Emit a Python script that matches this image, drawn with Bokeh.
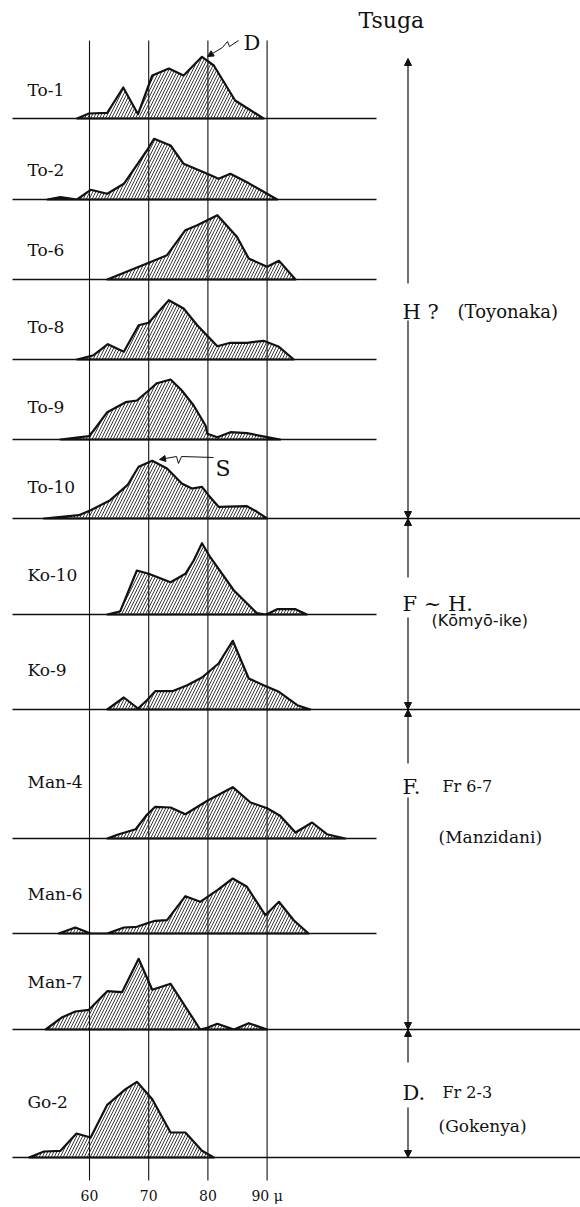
from bokeh.plotting import figure
from bokeh.models import Range1d, FixedTicker, Arrow, NormalHead
from bokeh.core.properties import value
from bokeh.embed import file_html
from bokeh.resources import INLINE

# ---------------- data (grain size in micron, relative frequency) ----------------
samples = ["To-1", "To-2", "To-6", "To-8", "To-9", "To-10",
           "Ko-10", "Ko-9", "Man-4", "Man-6", "Man-7", "Go-2"]

to1_size = [57.9, 59.9, 63.0, 65.7, 68.2, 70.6, 73.4, 75.9, 79.0, 81.0, 84.6, 87.2, 89.4]
to1_freq = [0, 5, 5.7, 31, 4.3, 43, 50, 43, 61.7, 53, 18, 8.3, 0]

to2_size = [52.9, 55.1, 57.9, 60.2, 63.0, 65.8, 69.7, 70.9, 73.7, 75.9, 79.9, 81.8, 83.8, 86.6, 90.0, 91.7]
to2_freq = [0, 2.3, 0, 9.7, 5.7, 15.7, 49, 60.7, 54, 35.7, 25.7, 20.7, 25.7, 17.3, 5.7, 0]

to6_size = [63.0, 69.7, 73.1, 76.2, 78.2, 81.6, 84.9, 86.9, 90.0, 92.0, 94.8]
to6_freq = [0, 16, 24.3, 49.3, 54.3, 64.3, 42.7, 21, 12.7, 18.7, 0]

to8_size = [57.9, 60.7, 63.1, 65.8, 68.3, 70.0, 73.4, 75.9, 78.2, 81.6, 83.8, 86.6, 89.4, 92.0, 94.5]
to8_freq = [0, 4.3, 15.3, 7.7, 34.3, 36.7, 59.3, 51, 34.3, 13.3, 16.7, 16.7, 18.7, 12.7, 0]

to9_size = [55.1, 59.9, 60.7, 63.0, 66.1, 68.0, 70.0, 71.4, 73.7, 75.6, 77.6, 79.6, 79.9,
            81.6, 83.8, 86.6, 90.0, 92.2]
to9_freq = [0, 3.3, 9, 27.3, 37.3, 39, 49, 56.3, 60, 49, 34, 14, 5.7, 2.3, 7.3, 6.3, 2.3, 0]

to10_size = [52.3, 58.2, 60.2, 63.5, 66.4, 68.3, 70.6, 73.1, 75.6, 77.3, 79.0, 80.1, 81.8, 86.6, 88.3, 90.0]
to10_freq = [0, 3.3, 8.3, 18.3, 33.3, 51.7, 57.7, 50, 35, 30, 31.7, 23.3, 11.7, 12.3, 6.7, 0]

ko10_size = [63.0, 65.2, 68.0, 70.0, 73.7, 76.2, 77.6, 79.0, 80.4, 84.4, 88.3, 89.7, 90.3, 91.7, 94.8, 96.7]
ko10_freq = [0, 3.3, 44, 40.7, 32.3, 40.7, 54, 71.3, 57.3, 24, 1.3, 0, 1.3, 5.3, 5.3, 0]

ko9_size = [63.0, 65.8, 68.2, 69.7, 71.1, 74.0, 76.5, 79.0, 81.8, 84.2, 86.9, 89.4, 92.0, 95.1, 97.3]
ko9_freq = [0, 12, 1, 9.3, 18.3, 18.3, 24.3, 32, 46, 68.7, 31, 24.3, 17.7, 4.3, 0]

man4_size = [63.0, 64.7, 67.8, 69.7, 71.1, 73.7, 76.2, 79.9, 84.2, 87.2, 90.0, 92.2, 94.8, 97.6, 100.1, 103.2]
man4_freq = [0, 3.7, 9.3, 23.7, 31.7, 31, 24.3, 37.7, 51.3, 36, 30.3, 22.7, 6, 16, 4.3, 0]

man6_size = [54.8, 57.6, 60.2, 63.0, 65.8, 68.0, 70.0, 71.1, 73.1, 76.2, 78.7, 81.6, 84.2, 86.6,
             89.7, 92.0, 94.5, 97.0]
man6_freq = [0, 6, 0, 0, 6, 6.7, 10.7, 12.7, 13.3, 37.3, 31.7, 43.3, 55, 46.7, 18.3, 31.7, 13.3, 0]

man7_size = [52.6, 55.4, 57.6, 59.9, 63.0, 65.5, 68.3, 70.6, 73.7, 78.7, 79.9, 81.6, 84.4, 86.9, 90.0]
man7_freq = [0, 12.3, 18, 19.7, 38.3, 37.3, 70.7, 39.7, 45.7, 0, 1.7, 5.7, 0, 6.3, 0]

go2_size = [49.8, 52.3, 55.1, 57.8, 60.2, 63.0, 66.1, 68.0, 70.6, 73.7, 76.2, 79.0, 81.0]
go2_freq = [0, 6, 6.7, 24, 20, 52.7, 68.3, 75.7, 58.3, 25, 25, 6.7, 0]

sizes = [to1_size, to2_size, to6_size, to8_size, to9_size, to10_size,
         ko10_size, ko9_size, man4_size, man6_size, man7_size, go2_size]
freqs = [to1_freq, to2_freq, to6_freq, to8_freq, to9_freq, to10_freq,
         ko10_freq, ko9_freq, man4_freq, man6_freq, man7_freq, go2_freq]

tick_values = [60, 70, 80, 90]
tick_labels = {90: "90 μ"}

group_marks = ["H ?", "F ~ H.", "F.", "D."]
group_notes = ["(Toyonaka)", "Fr 6-7", "(Manzidani)", "Fr 2-3", "(Gokenya)"]
komyo_note = "(Kōmyō-ike)"

# ---------------- layout ----------------
W, H = 580, 1207
FRAME_H = 1181
PX_PER_UM = 5.92
X60_PX = 89.0


def px(xp):
    """horizontal page pixel -> micron coordinate"""
    return 60 + (xp - X60_PX) / PX_PER_UM


baselines = [118, 199, 279, 359, 439, 518, 614, 709, 838, 933, 1029, 1157]
label_base = [89, 169, 249, 326, 406, 486, 574, 669, 781, 893, 981, 1101]
long_rows = {5, 7, 10, 11}

INK = "#111111"
SERIF = "DejaVu Serif"

p = figure(width=W, height=H, x_range=Range1d(px(0), px(W)), y_range=Range1d(FRAME_H, 0),
           output_backend="svg", toolbar_location=None, y_axis_location=None,
           min_border_left=0, min_border_right=0, min_border_top=0, min_border_bottom=H - FRAME_H,
           outline_line_color=None, background_fill_color="white", border_fill_color="white")
p.grid.visible = False

ax = p.xaxis[0]
ax.ticker = FixedTicker(ticks=tick_values)
ax.major_label_overrides = tick_labels
ax.axis_line_color = None
ax.major_tick_line_color = None
ax.minor_tick_line_color = None
ax.major_tick_out = 0
ax.major_tick_in = 0
ax.major_label_standoff = 6
ax.major_label_text_font = SERIF
ax.major_label_text_font_size = "14px"
ax.major_label_text_color = INK

# vertical reference lines
p.segment(x0=tick_values, x1=tick_values, y0=[40] * 4, y1=[1180] * 4,
          line_color=INK, line_width=1.1)

# baselines
x_ends = [px(580) if i in long_rows else px(376) for i in range(len(samples))]
p.segment(x0=[px(12)] * len(samples), x1=x_ends, y0=baselines, y1=baselines,
          line_color=INK, line_width=1.6)

# distributions
xs = [list(s) for s in sizes]
ys = [[b - f for f in fr] for b, fr in zip(baselines, freqs)]
p.patches(xs, ys, fill_alpha=0, hatch_pattern="/", hatch_color="#222222",
          hatch_scale=6, hatch_weight=0.9, line_color=INK, line_width=2.2,
          line_join="round")

# sample labels
p.text(x=[px(27)] * len(samples), y=label_base, text=samples, text_font=value(SERIF),
       text_font_size="17px", text_color=INK, text_baseline="alphabetic", text_align="left")

# title
p.text(x=[px(358)], y=[20], text=["Tsuga"], text_font=value(SERIF), text_font_size="22px",
       text_color=INK, text_baseline="alphabetic")

# D and S pointers
d_pts = [(238, 40), (229, 46), (227, 41), (222, 47)]
p.line([px(a) for a, b in d_pts], [b for a, b in d_pts], line_color=INK, line_width=1)
p.add_layout(Arrow(end=NormalHead(size=6, line_color=INK, fill_color=INK, line_width=1),
                   x_start=px(222), y_start=47, x_end=px(207), y_end=56,
                   line_color=INK, line_width=1))
p.text(x=[px(243)], y=[42], text=["D"], text_font=value(SERIF), text_font_size="21px",
       text_color=INK, text_baseline="alphabetic")

s_pts = [(213, 457), (181, 456), (178, 463), (176, 456)]
p.line([px(a) for a, b in s_pts], [b for a, b in s_pts], line_color=INK, line_width=1)
p.add_layout(Arrow(end=NormalHead(size=6, line_color=INK, fill_color=INK, line_width=1),
                   x_start=px(176), y_start=456, x_end=px(159), y_end=459,
                   line_color=INK, line_width=1))
p.text(x=[px(215)], y=[468], text=["S"], text_font=value(SERIF), text_font_size="22px",
       text_color=INK, text_baseline="alphabetic")

# group arrows on the right
VX = px(407.5)
arrow_pairs = [(283, 58), (320, 518), (577, 518), (617, 709),
               (763, 709), (797, 1029), (1062, 1029), (1107, 1157)]
for y0, y1 in arrow_pairs:
    p.add_layout(Arrow(end=NormalHead(size=7, line_color=INK, fill_color=INK, line_width=1),
                       x_start=VX, y_start=y0, x_end=VX, y_end=y1,
                       line_color=INK, line_width=1.2))

p.text(x=[px(402)] * 4, y=[311, 603, 786, 1092], text=group_marks, text_font=value(SERIF),
       text_font_size="21px", text_color=INK, text_baseline="alphabetic")
p.text(x=[px(v) for v in [457, 442, 438, 442, 438]],
       y=[311, 786, 836, 1092, 1125], text=group_notes, text_font=value(SERIF),
       text_font_size=["18px", "16px", "17px", "16px", "17px"],
       text_color=INK, text_baseline="alphabetic")
p.text(x=[px(431)], y=[620], text=[komyo_note], text_font=value("DejaVu Sans"),
       text_font_size="16px", text_color=INK, text_baseline="alphabetic")

open("out.html", "w").write(file_html(p, INLINE))
